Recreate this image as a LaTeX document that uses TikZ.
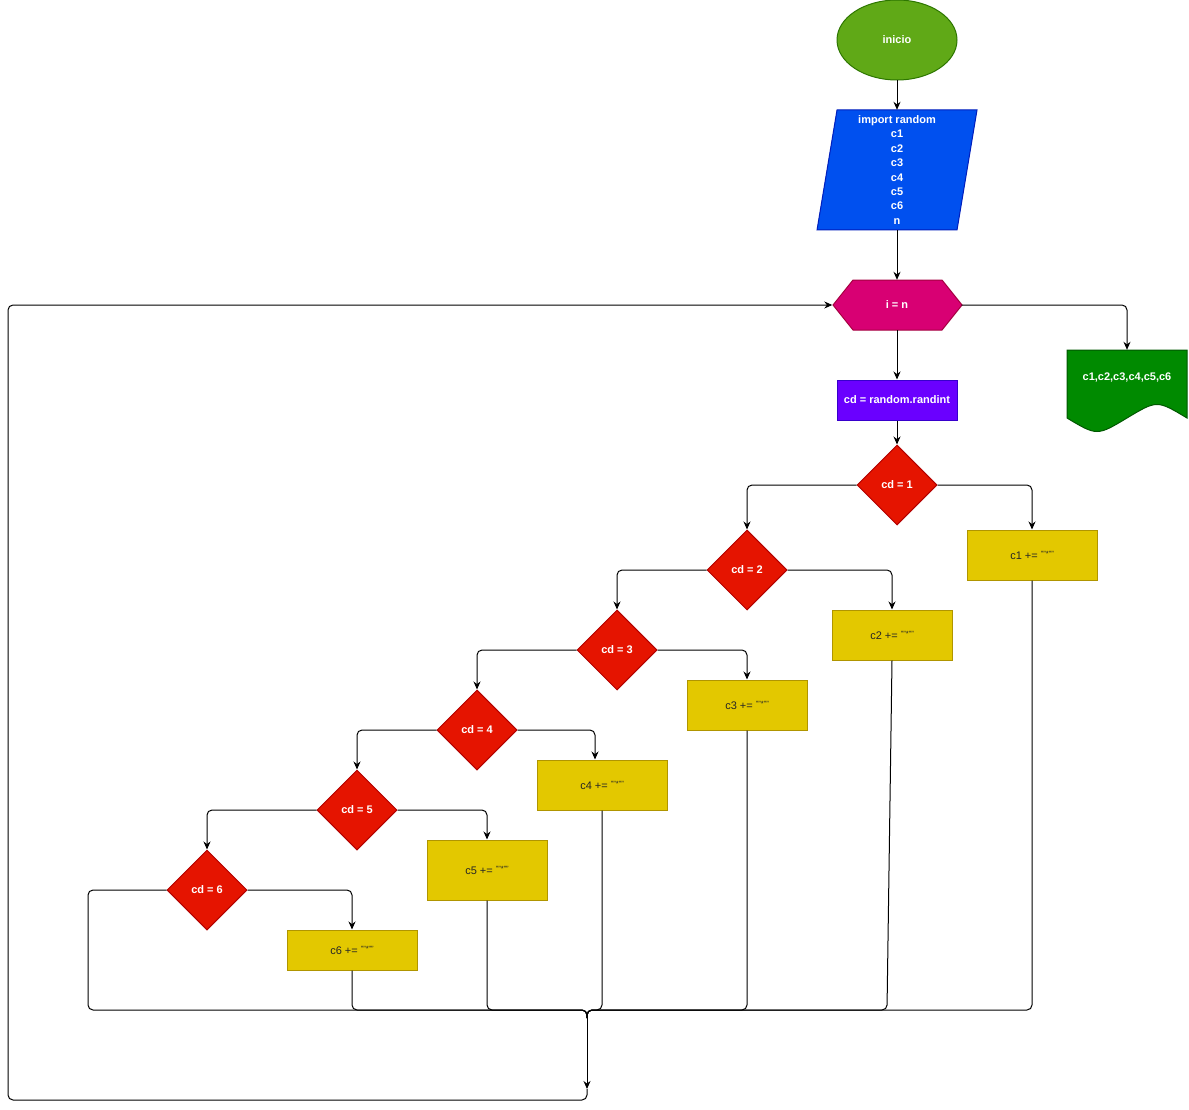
\documentclass[tikz,border=0pt]{standalone}
\usepackage{fontspec}
\setmainfont{Liberation Sans}
\usetikzlibrary{shapes.geometric,arrows.meta}
\definecolor{iniF}{HTML}{60A917}\definecolor{iniB}{HTML}{2D7600}
\definecolor{parF}{HTML}{0050EF}\definecolor{parB}{HTML}{001DBC}
\definecolor{hexF}{HTML}{D80073}\definecolor{hexB}{HTML}{A50040}
\definecolor{rndF}{HTML}{6A00FF}\definecolor{rndB}{HTML}{3700CC}
\definecolor{docF}{HTML}{008A00}\definecolor{docB}{HTML}{005700}
\definecolor{decF}{HTML}{E51400}\definecolor{decB}{HTML}{B20000}
\definecolor{actF}{HTML}{E3C800}\definecolor{actB}{HTML}{B09500}
\newcommand{\stq}{{\fontsize{7.5}{8}\selectfont\raisebox{3pt}{""*""}}}
\begin{document}
\begin{tikzpicture}[x=1pt,y=-1pt,
  lbl/.style={font=\fontsize{11}{14.4}\selectfont\bfseries, text=white, align=center},
  dec/.style={diamond, draw=decB, fill=decF, line width=1pt, minimum width=80pt, minimum height=80pt, inner sep=0pt, lbl},
  act/.style={rectangle, draw=actB, fill=actF, line width=1pt, inner sep=0pt, font=\fontsize{11}{13}\selectfont, text=black!85},
  conn/.style={draw=black, line width=1pt, rounded corners=5pt, -{Stealth[length=8pt,width=7pt]}},
  wire/.style={draw=black, line width=1pt, rounded corners=5pt},
  ghost/.style={rectangle, inner sep=0pt}
]
\useasboundingbox (0,0) rectangle (1189,1110);

% start
\node[ellipse, draw=iniB, fill=iniF, line width=1pt, minimum width=120pt, minimum height=80pt, inner sep=0pt, lbl] (ini) at (897,40) {inicio};

% parallelogram
\fill[parF, draw=parB, line width=1pt] (837,110) -- (977,110) -- (957,230) -- (817,230) -- cycle;
\node[ghost, minimum width=140pt, minimum height=120pt] (para) at (897,170) {};
\node[lbl] at (897,170) {import random\\c1\\c2\\c3\\c4\\c5\\c6\\n};

% hexagon
\fill[hexF, draw=hexB, line width=1pt] (853,280) -- (942,280) -- (962,305) -- (942,330) -- (853,330) -- (833,305) -- cycle;
\node[ghost, minimum width=129pt, minimum height=50pt, lbl] (hex) at (897,305) {i = n};

% process
\node[rectangle, draw=rndB, fill=rndF, line width=1pt, minimum width=120pt, minimum height=40pt, inner sep=0pt, lbl] (rnd) at (897,400) {cd = random.randint};

% document
\fill[docF, draw=docB, line width=1pt] (1067,350) -- (1187,350) -- (1187,418) .. controls (1157,400) .. (1127,418) .. controls (1097,436) .. (1067,418) -- cycle;
\node[ghost, minimum width=120pt, minimum height=80pt] (doc) at (1127,390) {};
\node[lbl] at (1127,378) {c1,c2,c3,c4,c5,c6};

% decisions
\node[dec] (d1) at (897,485) {cd = 1};
\node[dec] (d2) at (747,570) {cd = 2};
\node[dec] (d3) at (617,650) {cd = 3};
\node[dec] (d4) at (477,730) {cd = 4};
\node[dec] (d5) at (357,810) {cd = 5};
\node[dec] (d6) at (207,890) {cd = 6};

% actions
\node[act, minimum width=130pt, minimum height=50pt] (c1) at (1032,555) {c1 += \stq};
\node[act, minimum width=120pt, minimum height=50pt] (c2) at (892,635) {c2 += \stq};
\node[act, minimum width=120pt, minimum height=50pt] (c3) at (747,705) {c3 += \stq};
\node[act, minimum width=130pt, minimum height=50pt] (c4) at (602,785) {c4 += \stq};
\node[act, minimum width=120pt, minimum height=60pt] (c5) at (487,870) {c5 += \stq};
\node[act, minimum width=130pt, minimum height=40pt] (c6) at (352,950) {c6 += \stq};

% main connectors
\draw[conn] (ini) -- (para);
\draw[conn] (para) -- (hex);
\draw[conn] (hex) -- (rnd);
\draw[conn] (hex.east) -| (doc.north);
\draw[conn] (rnd) -- (d1);
\draw[conn] (d1.west) -| (d2.north);
\draw[conn] (d1.east) -| (c1.north);
\draw[conn] (d2.west) -| (d3.north);
\draw[conn] (d2.east) -| (c2.north);
\draw[conn] (d3.west) -| (d4.north);
\draw[conn] (d3.east) -| (c3.north);
\draw[conn] (d4.west) -| (d5.north);
\draw[conn] (d4.east) -| ([xshift=-7pt]c4.north);
\draw[conn] (d5.west) -| (d6.north);
\draw[conn] (d5.east) -| (c5.north);
\draw[conn] (d6.east) -| (c6.north);

% merge
\coordinate (m) at (587,1010);
\coordinate (m2) at (587,1018);
\coordinate (e) at (587,1089);
\draw[wire] (d6.west) -| (88,1010) -- (m) -- (m2);
\draw[wire] (c6.south) |- (m) -- (m2);
\draw[wire] (c5.south) |- (m) -- (m2);
\draw[wire] (c4.south) |- (m) -- (m2);
\draw[wire] (c3.south) |- (m) -- (m2);
\draw[wire] (c2.south) -- (887,1010) -- (m) -- (m2);
\draw[wire] (c1.south) |- (m) -- (m2);
\draw[conn] (m2) -- (e);

% loop back
\draw[conn] (e) -- (587,1100) -- (8,1100) -- (8,305) -- (hex.west);
\end{tikzpicture}
\end{document}
